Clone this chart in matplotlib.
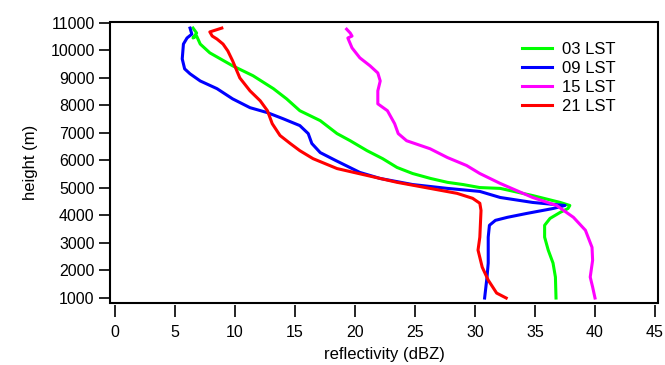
import matplotlib.pyplot as plt
from matplotlib.patches import Rectangle

plt.rcParams["font.family"] = ["Liberation Sans", "DejaVu Sans"]

# Reflectivity profiles (dBZ) vs. height (m).
lst03_dbz = [6.5, 6.8, 6.5, 6.8, 7.1, 7.9, 9.8, 11.5, 13.2, 14.3, 15.4, 17.1, 18.5, 19.6,
             21.0, 22.3, 23.5, 24.8, 26.3, 27.7, 29.0, 30.4, 32.1, 34.8, 37.1, 37.9, 37.75,
             37.1, 36.25, 35.8, 35.8, 36.1, 36.5, 36.7, 36.75]
lst03_hgt = [10800, 10620, 10440, 10510, 10220, 9900, 9430, 9070, 8600, 8230, 7800, 7440,
             6970, 6710, 6350, 6060, 5740, 5520, 5340, 5200, 5120, 5010, 4980, 4720, 4470,
             4360, 4250, 4110, 3890, 3640, 3210, 2740, 2270, 1760, 1000]

lst09_dbz = [6.25, 6.4, 6.0, 5.7, 5.6, 5.8, 6.25, 7.1, 8.5, 9.8, 11.25, 12.7, 14.0, 15.4,
             16.1, 16.4, 17.1, 18.4, 20.4, 22.1, 24.8, 27.7, 30.4, 32.1, 34.8, 37.5, 36.5,
             34.3, 32.7, 31.7, 31.2, 31.1, 31.1, 31.0, 30.8]
lst09_hgt = [10800, 10580, 10440, 10220, 9680, 9320, 9140, 8880, 8600, 8230, 7910, 7730,
             7510, 7260, 6970, 6610, 6280, 5990, 5560, 5340, 5120, 4980, 4870, 4650, 4470,
             4360, 4250, 4070, 3930, 3820, 3640, 3210, 2270, 1760, 1000]

lst15_dbz = [19.3, 19.6, 19.75, 19.4, 19.75, 20.4, 21.25, 21.9, 22.1, 21.9, 21.9, 22.7,
             23.3, 23.6, 24.3, 26.25, 27.7, 29.3, 30.4, 32.1, 34.8, 36.8, 38.2, 39.2, 39.75,
             39.8, 39.6, 39.8, 40.0]
lst15_hgt = [10760, 10620, 10510, 10440, 10080, 9720, 9430, 9170, 8880, 8520, 8050, 7800,
             7330, 6970, 6710, 6420, 6100, 5810, 5520, 5160, 4650, 4360, 3930, 3460, 2840,
             2370, 1760, 1400, 1000]

lst21_dbz = [8.9, 7.9, 8.1, 8.5, 9.0, 9.4, 9.8, 10.4, 11.25, 12.1, 12.7, 13.1, 13.75, 14.6,
             15.4, 16.5, 18.5, 20.7, 23.5, 26.25, 28.5, 29.8, 30.4, 30.5, 30.4, 30.25, 30.6,
             31.1, 31.8, 32.6]
lst21_hgt = [10800, 10660, 10510, 10400, 10220, 9970, 9610, 8990, 8520, 8160, 7800, 7330,
             6900, 6610, 6350, 6060, 5700, 5480, 5200, 4980, 4800, 4620, 4440, 4180, 3210,
             2740, 2120, 1650, 1180, 1000]

series_labels = ["03 LST", "09 LST", "15 LST", "21 LST"]
series_colors = ["#00ff00", "#0000ff", "#ff00ff", "#ff0000"]

fig = plt.figure(figsize=(6.65, 3.65), dpi=100)
ax = fig.add_axes([0.1654, 0.1699, 0.8241, 0.7698])

profiles = [(lst03_dbz, lst03_hgt), (lst09_dbz, lst09_hgt),
            (lst15_dbz, lst15_hgt), (lst21_dbz, lst21_hgt)]
for (x, y), lab, col in zip(profiles, series_labels, series_colors):
    ax.plot(x, y, color=col, lw=2.2, label=lab, solid_joinstyle="round")

ax.set_xlim(-0.42, 45.25)
ax.set_ylim(820, 11020)
ax.set_xticks(range(0, 46, 5))
ax.set_yticks(range(1000, 11001, 1000))

# frame drawn separately so the x ticks can stand off from it
for s in ax.spines.values():
    s.set_visible(False)
ax.add_patch(Rectangle((0, 0), 1, 1, transform=ax.transAxes, fill=False,
                       lw=1.5, ec="black", clip_on=False, zorder=5))
ax.spines["bottom"].set_position(("outward", 1.5))

ax.tick_params(axis="x", direction="out", length=8.5, width=1.2, pad=6, labelsize=11.5)
ax.tick_params(axis="y", direction="out", length=8, width=1.2, pad=3, labelsize=11.5)

ax.set_xlabel("reflectivity (dBZ)", fontsize=12, labelpad=5)
ax.set_ylabel("height (m)", fontsize=12, labelpad=9)

ax.legend(loc="upper left", bbox_to_anchor=(0.752, 0.93), frameon=False,
          fontsize=12, handlelength=1.8, handletextpad=0.6,
          labelspacing=0.25, borderpad=0, borderaxespad=0)

fig.savefig("out.png", dpi=100)
